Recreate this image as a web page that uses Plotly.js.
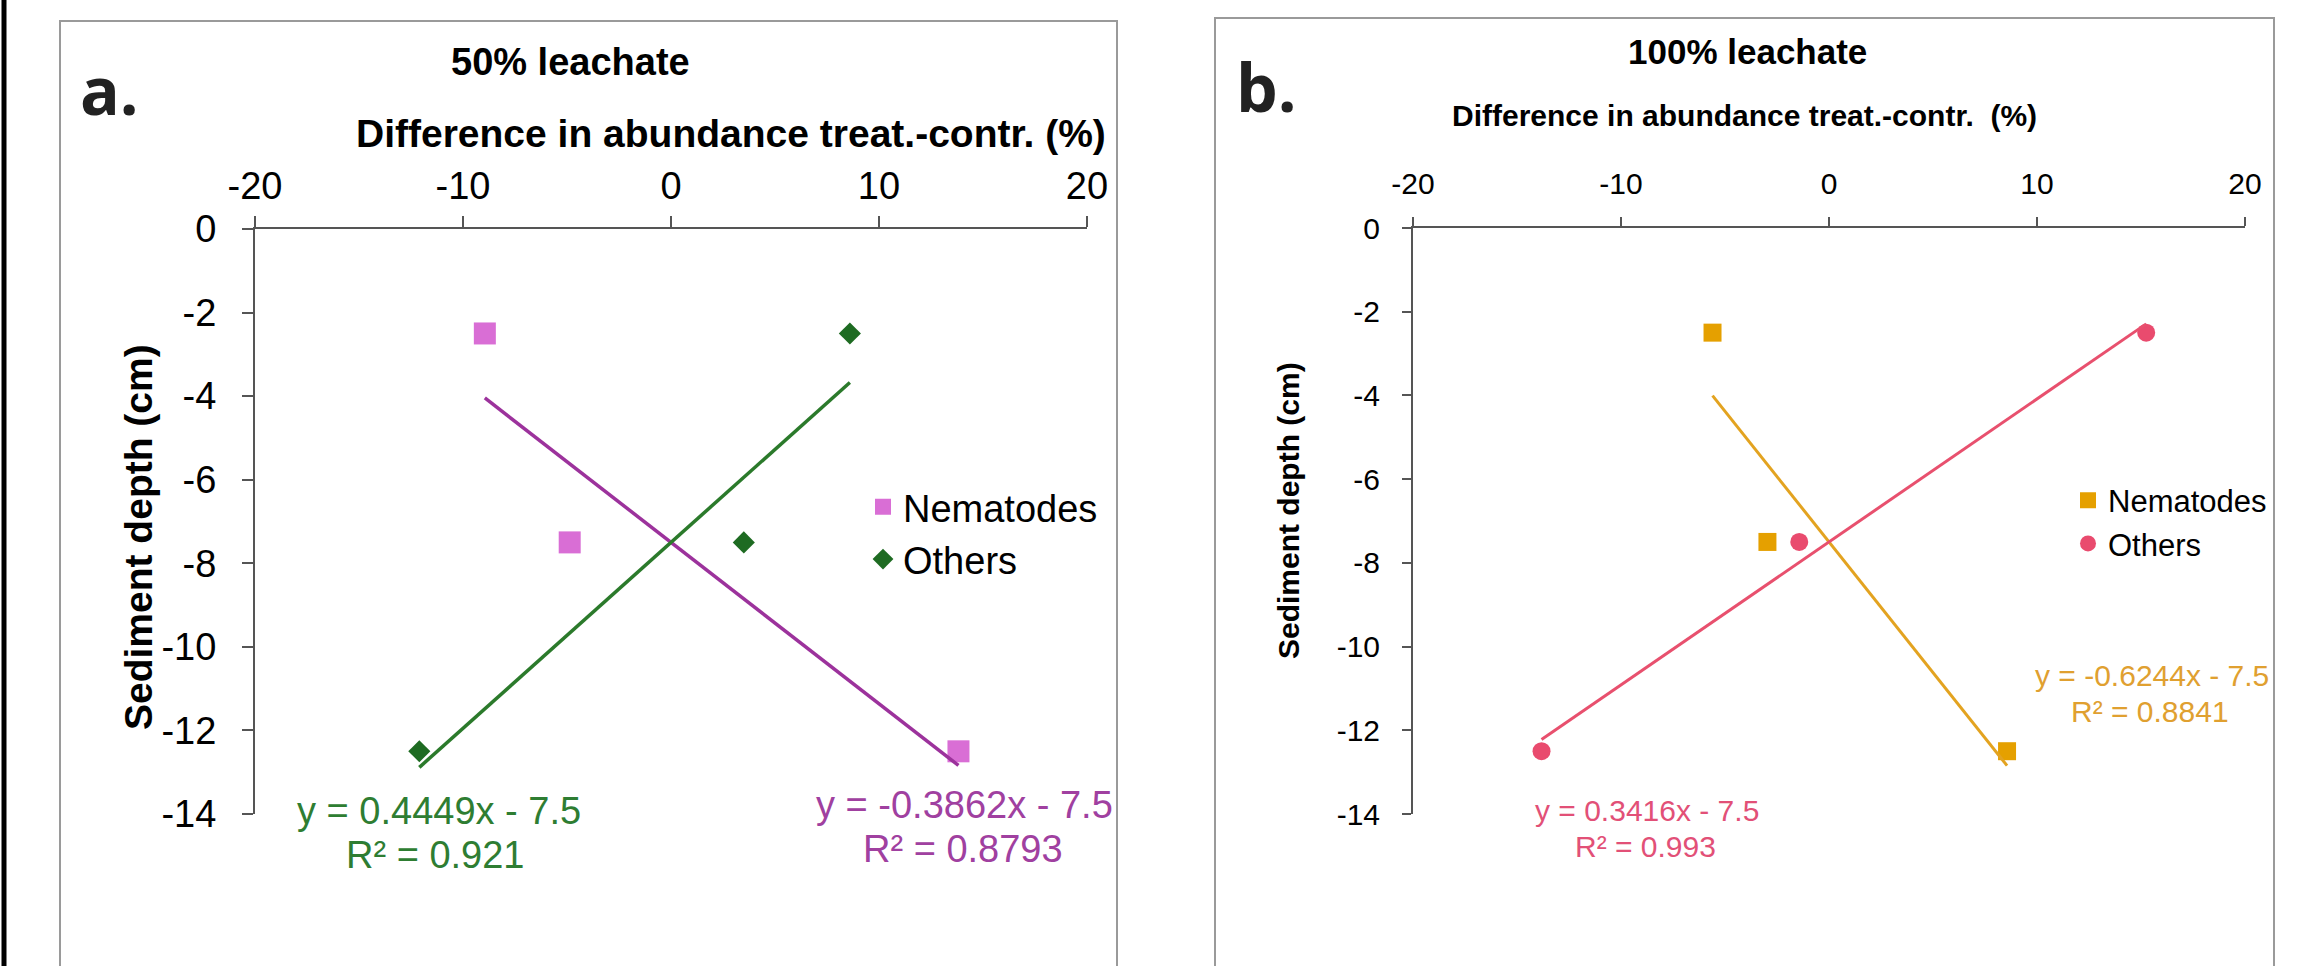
<!DOCTYPE html>
<html><head><meta charset="utf-8">
<script src="https://cdn.plot.ly/plotly-3.0.1.min.js"></script>
<style>html,body{margin:0;padding:0;background:#fff;} #chart{width:2303px;height:966px;}</style>
</head><body><div id="chart"></div>
<script>
// ---- data ----
const depth = [-2.5, -7.5, -12.5];            // sediment depth (cm)
const nematodesA = [-8.95, -4.87, 13.82];     // 50% leachate, Nematodes
const othersA = [8.6, 3.5, -12.1];            // 50% leachate, Others
const nematodesB = [-5.6, -2.96, 8.56];       // 100% leachate, Nematodes
const othersB = [15.25, -1.43, -13.82];       // 100% leachate, Others
const slopesA = [-0.3862, 0.4449];            // trendline slopes (Nematodes, Others)
const r2A = [0.8793, 0.921];
const slopesB = [-0.6244, 0.3416];
const r2B = [0.8841, 0.993];
const intercept = -7.5;
const seriesNames = ['Nematodes', 'Others'];
const panelTitles = ['50% leachate', '100% leachate'];
const panelLetters = ['a.', 'b.'];
const xTitles = ['Difference in abundance treat.-contr. (%)', 'Difference in abundance treat.-contr. \u00a0(%)'];
const yTitle = 'Sediment depth (cm)';
const xTickVals = [-20, -10, 0, 10, 20];
const xTickText = ['-20', '-10', '0', '10', '20'];
const yTickVals = [0, -2, -4, -6, -8, -10, -12, -14];
const yTickText = ['0', '-2', '-4', '-6', '-8', '-10', '-12', '-14'];

// ---- styling ----
const W = 2303, H = 966;
const px = v => v / W, py = v => 1 - v / H;
const FONT = 'Liberation Sans, Arial, sans-serif';
const AX = '#555555';
const colA = {nemMk: '#D96ED5', nemLn: '#9C329C', othMk: '#1E6B22', othLn: '#2B7A2B'};
const colB = {nemMk: '#E5A000', nemLn: '#E3A320', othMk: '#E94B6E', othLn: '#E8506E'};

function trend(xs, slope) {
  const lo = Math.min(...xs), hi = Math.max(...xs);
  return {x: [lo, hi], y: [slope * lo + intercept, slope * hi + intercept]};
}
function eqText(slope) { return 'y = ' + slope + 'x - ' + Math.abs(intercept); }
function r2Text(r) { return 'R\u00b2 = ' + r; }

const tA0 = trend(nematodesA, slopesA[0]), tA1 = trend(othersA, slopesA[1]);
const tB0 = trend(nematodesB, slopesB[0]), tB1 = trend(othersB, slopesB[1]);

const traces = [
  {x: nematodesA, y: depth, name: seriesNames[0], mode: 'markers', xaxis: 'x', yaxis: 'y', legend: 'legend',
   marker: {symbol: 'square', size: 22, color: colA.nemMk}},
  {x: othersA, y: depth, name: seriesNames[1], mode: 'markers', xaxis: 'x', yaxis: 'y', legend: 'legend',
   marker: {symbol: 'diamond', size: 17, color: colA.othMk}},
  {x: tA0.x, y: tA0.y, mode: 'lines', xaxis: 'x', yaxis: 'y', showlegend: false, line: {color: colA.nemLn, width: 3.5}},
  {x: tA1.x, y: tA1.y, mode: 'lines', xaxis: 'x', yaxis: 'y', showlegend: false, line: {color: colA.othLn, width: 3.5}},
  {x: nematodesB, y: depth, name: seriesNames[0], mode: 'markers', xaxis: 'x2', yaxis: 'y2', legend: 'legend2',
   marker: {symbol: 'square', size: 18, color: colB.nemMk}},
  {x: othersB, y: depth, name: seriesNames[1], mode: 'markers', xaxis: 'x2', yaxis: 'y2', legend: 'legend2',
   marker: {symbol: 'circle', size: 18, color: colB.othMk}},
  {x: tB0.x, y: tB0.y, mode: 'lines', xaxis: 'x2', yaxis: 'y2', showlegend: false, line: {color: colB.nemLn, width: 3}},
  {x: tB1.x, y: tB1.y, mode: 'lines', xaxis: 'x2', yaxis: 'y2', showlegend: false, line: {color: colB.othLn, width: 3}}
];

function xAx(domain, anchor, fs, tl, so) {
  return {domain: domain, anchor: anchor, side: 'top', range: [-20, 20], tickvals: xTickVals, ticktext: xTickText,
    showline: true, linecolor: AX, linewidth: 2, ticks: 'outside', ticklen: tl, tickwidth: 2, tickcolor: AX,
    ticklabelstandoff: so, showgrid: false, zeroline: false, fixedrange: true,
    tickfont: {family: FONT, size: fs, color: '#000'}};
}
function yAx(domain, anchor, fs, tl, so) {
  return {domain: domain, anchor: anchor, range: [-14, 0], tickvals: yTickVals, ticktext: yTickText,
    showline: true, linecolor: AX, linewidth: 2, ticks: 'outside', ticklen: tl, tickwidth: 2, tickcolor: AX,
    ticklabelstandoff: so, showgrid: false, zeroline: false, fixedrange: true,
    tickfont: {family: FONT, size: fs, color: '#000'}};
}

function ann(text, x, y, size, color, extra) {
  return Object.assign({text: text, x: px(x), y: py(y), xref: 'paper', yref: 'paper', showarrow: false,
    xanchor: 'center', yanchor: 'middle', font: {family: FONT, size: size, color: color}}, extra || {});
}

const annotations = [
  ann(panelLetters[0], 78, 89, 66, '#222', {xanchor: 'left', font: {family: 'Open Sans, sans-serif', size: 66, color: '#222', weight: 700}}),
  ann(panelLetters[1], 1234, 86, 66, '#222', {xanchor: 'left', font: {family: 'Open Sans, sans-serif', size: 66, color: '#222', weight: 700}}),
  ann('<b>' + panelTitles[0] + '</b>', 570, 62, 38, '#000'),
  ann('<b>' + panelTitles[1] + '</b>', 1747, 52, 35, '#000'),
  ann('<b>' + xTitles[0] + '</b>', 731, 134, 39, '#000'),
  ann('<b>' + xTitles[1] + '</b>', 1744, 115, 30, '#000'),
  ann('<b>' + yTitle + '</b>', 138, 537, 39, '#000', {textangle: -90}),
  ann('<b>' + yTitle + '</b>', 1288, 511, 30, '#000', {textangle: -90}),
  ann(eqText(slopesA[1]), 439, 811, 38, '#2E7D32'),
  ann(r2Text(r2A[1]), 435, 855, 38, '#2E7D32'),
  ann(eqText(slopesA[0]), 964, 805, 38, '#A040A0'),
  ann(r2Text(r2A[0]), 963, 849, 38, '#A040A0'),
  ann(eqText(slopesB[0]), 2152, 675, 30, '#E0A030'),
  ann(r2Text(r2B[0]), 2150, 711, 30, '#E0A030'),
  ann(eqText(slopesB[1]), 1647, 810, 30, '#E25077'),
  ann(r2Text(r2B[1]), 1645, 846, 30, '#E25077')
];

const shapes = [
  {type: 'line', xref: 'paper', yref: 'paper', x0: px(4), x1: px(4), y0: 0, y1: 1, line: {color: '#000', width: 5}},
  {type: 'rect', xref: 'paper', yref: 'paper', x0: px(60), x1: px(1117), y0: -0.05, y1: py(21), line: {color: '#9a9a9a', width: 2}},
  {type: 'rect', xref: 'paper', yref: 'paper', x0: px(1215), x1: px(2274), y0: -0.05, y1: py(18), line: {color: '#9a9a9a', width: 2}}
];

const layout = {
  width: W, height: H, margin: {l: 0, r: 0, t: 0, b: 0},
  paper_bgcolor: '#fff', plot_bgcolor: 'rgba(0,0,0,0)',
  xaxis: xAx([px(255), px(1087)], 'y', 38, 11, 2),
  yaxis: yAx([py(814), py(229)], 'x', 38, 11, 18),
  xaxis2: xAx([px(1413), px(2245)], 'y2', 30, 9, 11),
  yaxis2: yAx([py(814), py(228)], 'x2', 30, 9, 16),
  legend: {x: px(863), y: py(533), xanchor: 'left', yanchor: 'middle', bgcolor: 'rgba(0,0,0,0)', borderwidth: 0,
    font: {family: FONT, size: 38, color: '#000'}, tracegroupgap: 0},
  legend2: {x: px(2068), y: py(522), xanchor: 'left', yanchor: 'middle', bgcolor: 'rgba(0,0,0,0)', borderwidth: 0,
    font: {family: FONT, size: 31, color: '#000'}, tracegroupgap: 0},
  annotations: annotations,
  shapes: shapes,
  showlegend: true
};

Plotly.newPlot('chart', traces, layout, {displayModeBar: false, staticPlot: true});
</script>
</body></html>
